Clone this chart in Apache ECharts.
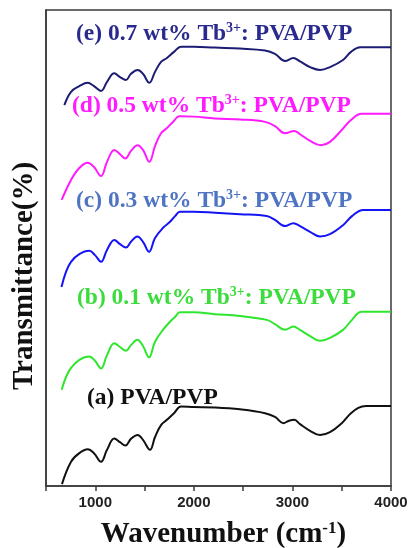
<!DOCTYPE html>
<html>
<head>
<meta charset="utf-8">
<script src="https://cdn.jsdelivr.net/npm/echarts@6/dist/echarts.min.js"></script>
<style>
  html, body { margin: 0; padding: 0; background: #fff; }
  #chart { width: 411px; height: 548px; }
</style>
</head>
<body>
<div id="chart"></div>
<script>
// FTIR spectra, stacked with vertical offsets (arbitrary transmittance units)
const xTicks = [1000, 2000, 3000, 4000];

const waveA = [662, 754, 838, 923, 987, 1058, 1119, 1193, 1251, 1305, 1362, 1430, 1484, 1555, 1606, 1667, 1727, 1798, 1870, 2000, 2214, 2468, 2722, 2823, 2908, 2965, 3020, 3077, 3179, 3280, 3381, 3500, 3584, 3668, 3746, 4000];
const transA = [0.4, 5.1, 6.9, 7.7, 6.9, 5.1, 7.6, 10.0, 9.2, 8.5, 9.9, 10.7, 9.7, 7.6, 10.3, 12.8, 13.9, 15.3, 16.7, 16.6, 16.5, 16.1, 15.3, 14.5, 13.2, 13.7, 13.9, 13.0, 11.6, 10.7, 11.3, 13.2, 15.1, 16.4, 16.8, 16.8];

const waveB = [659, 703, 754, 838, 939, 997, 1058, 1119, 1193, 1251, 1311, 1362, 1426, 1484, 1545, 1606, 1690, 1758, 1809, 1859, 2000, 2214, 2468, 2739, 2823, 2925, 3009, 3077, 3179, 3280, 3381, 3513, 3604, 3703, 4000];
const transB = [20.2, 22.9, 24.8, 26.5, 27.2, 26.3, 24.7, 27.5, 30.0, 29.2, 28.4, 29.6, 30.7, 29.4, 27.0, 30.3, 32.9, 34.5, 35.5, 36.5, 36.5, 36.1, 35.7, 34.9, 34.0, 32.8, 33.5, 32.8, 31.5, 30.5, 31.1, 32.8, 34.9, 36.6, 36.6];

const waveC = [657, 703, 754, 838, 939, 997, 1058, 1119, 1193, 1251, 1311, 1362, 1426, 1484, 1545, 1606, 1690, 1758, 1809, 1859, 2000, 2214, 2468, 2739, 2823, 2925, 3009, 3077, 3179, 3280, 3381, 3513, 3604, 3719, 4000];
const transC = [41.8, 45.0, 47.1, 48.7, 49.4, 48.5, 47.1, 49.6, 51.7, 50.8, 50.1, 51.3, 52.4, 51.3, 49.2, 52.1, 54.3, 55.5, 56.7, 57.6, 57.6, 57.4, 57.1, 56.7, 55.9, 54.6, 55.2, 54.6, 53.4, 52.4, 52.9, 54.8, 56.7, 58.0, 58.0];

const waveD = [659, 754, 838, 923, 987, 1058, 1119, 1193, 1251, 1305, 1362, 1430, 1484, 1548, 1606, 1667, 1727, 1798, 1852, 2000, 2214, 2468, 2722, 2823, 2925, 3019, 3077, 3179, 3290, 3381, 3500, 3594, 3703, 4000];
const transD = [60.1, 64.3, 66.8, 67.9, 67.0, 65.1, 68.1, 70.6, 69.7, 68.8, 70.4, 71.6, 70.6, 68.1, 71.4, 74.1, 75.2, 76.7, 77.7, 77.6, 77.2, 77.0, 76.5, 75.6, 74.1, 74.6, 73.9, 72.5, 71.6, 72.3, 74.8, 76.9, 78.2, 78.2];

const waveE = [686, 754, 838, 923, 987, 1058, 1119, 1193, 1251, 1311, 1362, 1430, 1484, 1548, 1606, 1667, 1727, 1798, 1870, 2000, 2214, 2468, 2722, 2823, 2925, 3009, 3077, 3179, 3280, 3381, 3513, 3594, 3686, 4000];
const transE = [80.0, 82.8, 84.0, 84.7, 84.0, 83.0, 84.9, 86.7, 85.9, 85.3, 86.6, 87.4, 86.6, 84.7, 87.0, 89.1, 89.9, 91.2, 92.3, 92.3, 92.1, 91.9, 91.5, 90.8, 89.3, 89.9, 89.2, 88.0, 87.4, 88.0, 89.5, 91.2, 92.2, 92.2];

const sampleNames = ['(a) PVA/PVP', '(b) 0.1 wt% Tb', '(c) 0.3 wt% Tb', '(d) 0.5 wt% Tb', '(e) 0.7 wt% Tb'];

const zip = (xs, ys) => xs.map((x, i) => [x, ys[i]]);

const serif = '"Liberation Serif", "Times New Roman", serif';

function makeLine(name, xs, ys, color) {
  return {
    name: name,
    type: 'line',
    data: zip(xs, ys),
    smooth: 0.4,
    showSymbol: false,
    symbol: 'none',
    lineStyle: { color: color, width: 2 },
    z: 3
  };
}

function sampleLabel(x, y, prefix, color, withIon) {
  const text = withIon ? '{m|' + prefix + '}{s|3+}{m|: PVA/PVP}' : '{m|' + prefix + '}';
  return {
    type: 'text',
    x: x,
    y: y,
    z: 10,
    style: {
      text: text,
      verticalAlign: 'middle',
      rich: {
        m: { fontFamily: serif, fontWeight: 'bold', fontSize: 23.5, fill: color, color: color, lineHeight: 26 },
        s: { fontFamily: serif, fontWeight: 'bold', fontSize: 14, fill: color, color: color, verticalAlign: 'top', lineHeight: 26 }
      }
    }
  };
}

const chart = echarts.init(document.getElementById('chart'), null, { renderer: 'canvas' });

chart.setOption({
  animation: false,
  backgroundColor: '#ffffff',
  grid: {
    left: 46, right: 20, top: 10, bottom: 62,
    outerBoundsMode: 'none',
    containLabel: false,
    show: true, borderColor: '#3a3a3a', borderWidth: 1.5, backgroundColor: 'transparent'
  },
  xAxis: {
    type: 'value',
    min: 500, max: 4000, interval: 500,
    name: '{t|Wavenumber (cm}{s|-1}{t|)}',
    nameLocation: 'middle',
    nameGap: 34,
    nameTextStyle: {
      padding: [0, 0, 0, 10],
      rich: {
        t: { fontFamily: serif, fontWeight: 'bold', fontSize: 29, color: '#111', lineHeight: 30 },
        s: { fontFamily: serif, fontWeight: 'bold', fontSize: 17, color: '#111', verticalAlign: 'top', lineHeight: 30 }
      }
    },
    axisLine: { show: true, lineStyle: { color: '#3a3a3a', width: 1.5 } },
    axisTick: { show: true, inside: false, length: 5, lineStyle: { color: '#3a3a3a', width: 1.5 } },
    axisLabel: {
      margin: 9,
      fontFamily: '"Liberation Sans", Arial, sans-serif',
      fontWeight: 'bold',
      fontSize: 15,
      color: '#222',
      formatter: v => (xTicks.indexOf(v) >= 0 ? String(v) : '')
    },
    splitLine: { show: false }
  },
  yAxis: {
    type: 'value',
    min: 0, max: 100,
    axisLine: { show: true, lineStyle: { color: '#3a3a3a', width: 1.5 } },
    axisTick: { show: false },
    axisLabel: { show: false },
    splitLine: { show: false }
  },
  series: [
    makeLine(sampleNames[0], waveA, transA, '#111111'),
    makeLine(sampleNames[1], waveB, transB, '#2ee62e'),
    makeLine(sampleNames[2], waveC, transC, '#1414f5'),
    makeLine(sampleNames[3], waveD, transD, '#ff1aff'),
    makeLine(sampleNames[4], waveE, transE, '#1c1c74')
  ],
  graphic: [
    {
      type: 'text',
      x: 25,
      y: 276,
      rotation: Math.PI / 2,
      z: 10,
      style: {
        text: 'Transmittance(%)',
        fontFamily: serif,
        fontWeight: 'bold',
        fontSize: 29,
        fill: '#111',
        align: 'center',
        verticalAlign: 'middle'
      }
    },
    sampleLabel(76, 34, '(e) 0.7 wt% Tb', '#2a2a8e', true),
    sampleLabel(72, 106, '(d) 0.5 wt% Tb', '#ff1aff', true),
    sampleLabel(76, 201, '(c) 0.3 wt% Tb', '#4f74c2', true),
    sampleLabel(77, 298, '(b) 0.1 wt% Tb', '#3ddc3d', true),
    sampleLabel(87, 398, '(a) PVA/PVP', '#111111', false)
  ]
});
</script>
</body>
</html>
